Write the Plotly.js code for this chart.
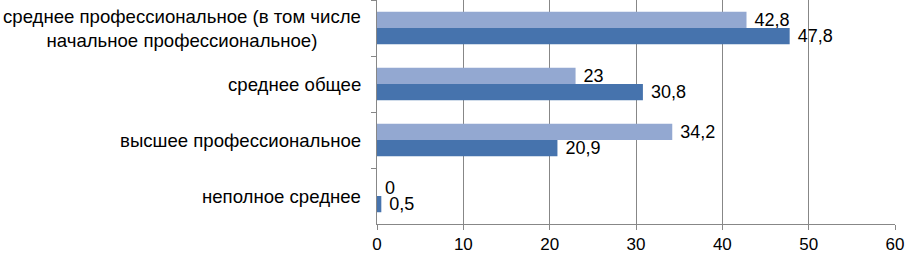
<!DOCTYPE html>
<html>
<head>
<meta charset="utf-8">
<script src="https://cdn.plot.ly/plotly-3.0.1.min.js"></script>
<style>html,body{margin:0;padding:0;background:#fff;}#chart{width:905px;height:253px;}</style>
</head>
<body>
<div id="chart"></div>
<script>
var categories = [
  "среднее профессиональное (в том числе<br>начальное профессиональное)",
  "среднее общее",
  "высшее профессиональное",
  "неполное среднее"
];
var seriesLight = [42.8, 23, 34.2, 0];
var seriesDark = [47.8, 30.8, 20.9, 0.5];
var xTicks = [0, 10, 20, 30, 40, 50, 60];

function fmt(v) { return ' ' + String(v).replace('.', ','); }

var family = '"Liberation Sans", Arial, sans-serif';
var valueFont = {family: family, size: 18, color: '#000'};
var catFont = {family: family, size: 18.6, color: '#000'};
var tickFont = {family: family, size: 17, color: '#000'};

var traces = [
  {type: 'bar', orientation: 'h', y: categories, x: seriesLight,
   marker: {color: '#93a8d1'}, text: seriesLight.map(fmt), textposition: 'outside',
   textfont: valueFont, cliponaxis: false, constraintext: 'none', hoverinfo: 'none'},
  {type: 'bar', orientation: 'h', y: categories, x: seriesDark,
   marker: {color: '#4673ad'}, text: seriesDark.map(fmt), textposition: 'outside',
   textfont: valueFont, cliponaxis: false, constraintext: 'none', hoverinfo: 'none'}
];

var annotations = categories.map(function (c) {
  return {xref: 'paper', yref: 'y', x: 0, y: c, text: c, showarrow: false,
          xanchor: 'right', yanchor: 'middle', align: 'center', xshift: -14, font: catFont};
});

var layout = {
  width: 905, height: 253,
  margin: {l: 377, r: 10, t: 0, b: 29, pad: 0},
  paper_bgcolor: '#fff', plot_bgcolor: '#fff',
  showlegend: false,
  barmode: 'group', bargap: 0.42, bargroupgap: 0,
  font: tickFont,
  xaxis: {range: [0, 60], tickvals: xTicks, ticktext: xTicks.map(String),
          showgrid: true, gridcolor: '#878787', gridwidth: 1,
          showline: true, linecolor: '#878787', linewidth: 1,
          ticks: 'outside', ticklen: 5, tickcolor: '#878787',
          ticklabeloverflow: 'allow',
          zeroline: false, tickfont: tickFont, fixedrange: true},
  yaxis: {type: 'category', autorange: 'reversed', showticklabels: false,
          showgrid: false, showline: true, linecolor: '#878787', linewidth: 1,
          ticks: 'outside', ticklen: 5, tickcolor: '#878787', tickson: 'boundaries',
          zeroline: false, fixedrange: true},
  annotations: annotations
};

Plotly.newPlot('chart', traces, layout, {staticPlot: true, displayModeBar: false});
</script>
</body>
</html>
